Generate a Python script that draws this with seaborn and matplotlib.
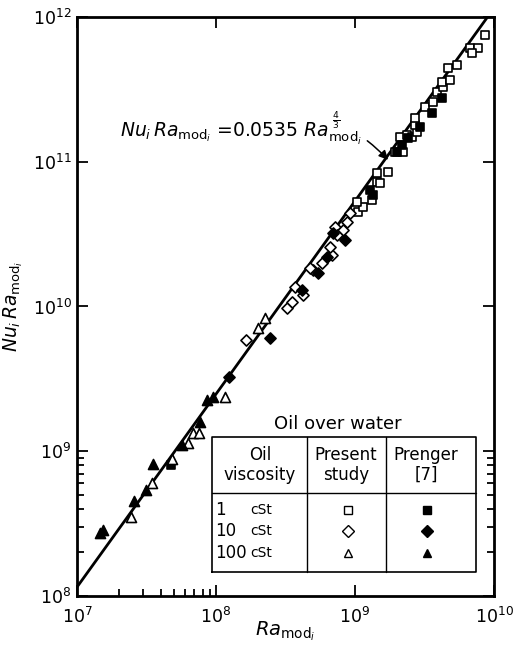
import numpy as np
import pandas as pd
import matplotlib
matplotlib.use("Agg")
import matplotlib.pyplot as plt
from matplotlib.ticker import FixedLocator, NullFormatter
import seaborn as sns

# present study, 1 cSt (open squares)
sq_open_x = [1.05e9, 1.14e9, 1.03e9, 1.32e9, 1.44e9, 1.51e9, 1.44e9, 1.73e9, 1.94e9, 2.21e9,
             2.11e9, 2.37e9, 2.57e9, 2.79e9, 2.70e9, 2.70e9, 3.19e9, 3.64e9, 3.89e9, 4.30e9,
             4.23e9, 4.82e9, 4.67e9, 5.42e9, 6.71e9, 7.67e9, 6.95e9, 8.61e9]
sq_open_y = [4.50e10, 4.86e10, 5.27e10, 5.44e10, 7.25e10, 7.13e10, 8.36e10, 8.49e10, 1.17e11, 1.17e11,
             1.48e11, 1.53e11, 1.48e11, 1.61e11, 1.80e11, 2.00e11, 2.39e11, 2.59e11, 3.03e11, 3.28e11,
             3.56e11, 3.67e11, 4.45e11, 4.66e11, 6.11e11, 6.11e11, 5.64e11, 7.52e11]
# Prenger, 1 cSt (filled squares)
sq_fill_x = [4.74e7, 1.28e9, 1.35e9, 2.00e9, 2.18e9, 2.40e9, 2.94e9, 3.58e9, 4.23e9]
sq_fill_y = [8.04e8, 6.38e10, 5.89e10, 1.17e11, 1.31e11, 1.46e11, 1.74e11, 2.17e11, 2.75e11]
# present study, 10 cSt (open diamonds)
di_open_x = [1.64e8, 3.24e8, 3.52e8, 4.23e8, 3.70e8, 4.99e8, 4.75e8, 5.80e8, 6.84e8, 6.61e8,
             7.18e8, 8.20e8, 8.75e8, 7.43e8, 9.21e8]
di_open_y = [5.87e9, 9.77e9, 1.07e10, 1.20e10, 1.36e10, 1.79e10, 1.85e10, 2.00e10, 2.27e10, 2.58e10,
             3.54e10, 3.38e10, 3.84e10, 3.12e10, 4.43e10]
# Prenger, 10 cSt (filled diamonds)
di_fill_x = [1.24e8, 2.44e8, 4.16e8, 5.42e8, 6.30e8, 6.95e8, 8.47e8]
di_fill_y = [3.26e9, 6.06e9, 1.30e10, 1.70e10, 2.20e10, 3.22e10, 2.88e10]
# present study, 100 cSt (open triangles)
tr_open_x = [2.44e7, 3.47e7, 4.82e7, 6.30e7, 6.84e7, 7.55e7, 1.16e8, 2.00e8, 2.25e8]
tr_open_y = [3.52e8, 6.04e8, 8.84e8, 1.14e9, 1.34e9, 1.34e9, 2.37e9, 7.10e9, 8.32e9]
# Prenger, 100 cSt (filled triangles)
tr_fill_x = [1.46e7, 1.54e7, 2.57e7, 3.13e7, 3.52e7, 5.69e7, 7.67e7, 8.61e7, 9.51e7]
tr_fill_y = [2.72e8, 2.86e8, 4.53e8, 5.40e8, 8.17e8, 1.10e9, 1.59e9, 2.26e9, 2.37e9]

# correlation line
coef = 0.0535
expo = 4.0 / 3.0
line_x = np.array([1e7, 1e10])

sns.set_style("ticks")
plt.rcParams["font.family"] = ["DejaVu Sans"]
plt.rcParams["mathtext.fontset"] = "dejavusans"
for k in ["text.color", "axes.labelcolor", "xtick.color", "ytick.color", "axes.edgecolor"]:
    plt.rcParams[k] = "black"

fig = plt.figure(figsize=(5.15, 6.58), dpi=100)
ax = fig.add_axes([0.1495, 0.0942, 0.8097, 0.8800])
ax.set_xscale("log")
ax.set_yscale("log")

sns.lineplot(x=line_x, y=coef * line_x ** expo, color="black", lw=2.0, ax=ax)

groups = [
    (sq_open_x, sq_open_y, "s", "white", 40),
    (sq_fill_x, sq_fill_y, "s", "black", 40),
    (di_open_x, di_open_y, "D", "white", 32),
    (di_fill_x, di_fill_y, "D", "black", 32),
    (tr_open_x, tr_open_y, "^", "white", 52),
    (tr_fill_x, tr_fill_y, "^", "black", 52),
]
for gx, gy, mk, fc, sz in groups:
    df = pd.DataFrame({"x": gx, "y": gy})
    sns.scatterplot(data=df, x="x", y="y", marker=mk, s=sz, color=fc,
                    edgecolor="black", linewidth=1.2, ax=ax, zorder=3)

ax.set_xlim(1e7, 1e10)
ax.set_ylim(1e8, 1e12)

ax.xaxis.set_minor_locator(FixedLocator([k * 1e7 for k in range(2, 10)]))
ax.yaxis.set_minor_locator(FixedLocator([k * 1e8 for k in range(2, 10)]))
ax.xaxis.set_minor_formatter(NullFormatter())
ax.yaxis.set_minor_formatter(NullFormatter())
ax.tick_params(which="both", direction="in", top=True, right=True, width=1.3)
ax.tick_params(which="major", length=8, labelsize=12.5, pad=4)
ax.tick_params(axis="x", which="major", pad=8)
ax.tick_params(which="minor", length=5, top=False)
for sp in ax.spines.values():
    sp.set_linewidth(2)
    sp.set_visible(True)

ax.set_xlabel(r"$Ra_{\mathrm{mod}_i}$", fontsize=14)
ax.set_ylabel(r"$Nu_i\,Ra_{\mathrm{mod}_i}$", fontsize=13.5)
ax.xaxis.set_label_coords(0.5, -0.04)
ax.yaxis.set_label_coords(-0.125, 0.5)

ax.annotate(r"$Nu_i\,Ra_{\mathrm{mod}_i}$ =0.0535 $Ra_{\mathrm{mod}_i}^{\;\frac{4}{3}}$",
            xy=(1.73e9, 1.03e11), xycoords="data",
            xytext=(0.683, 0.808), textcoords="axes fraction",
            ha="right", va="center", fontsize=13.5,
            arrowprops=dict(arrowstyle="-|>", color="black", lw=1.1,
                            connectionstyle="arc3,rad=-0.35", shrinkA=2, shrinkB=0))

# legend table
T = ax.transAxes
x0, x1 = 0.324, 0.957
y0, y1 = 0.0415, 0.2746
xa, xb = 0.5516, 0.741
ym = 0.178
ax.plot([x0, x1, x1, x0, x0], [y0, y0, y1, y1, y0], color="black", lw=1.2, transform=T)
ax.plot([xa, xa], [y0, y1], color="black", lw=1.0, transform=T)
ax.plot([xb, xb], [y0, y1], color="black", lw=1.0, transform=T)
ax.plot([x0, x1], [ym, ym], color="black", lw=1.0, transform=T)

ax.text(0.626, 0.297, "Oil over water", ha="center", va="center", fontsize=13, transform=T)
ax.text(0.439, 0.226, "Oil\nviscosity", ha="center", va="center", fontsize=12,
        linespacing=1.1, transform=T)
ax.text(0.645, 0.226, "Present\nstudy", ha="center", va="center", fontsize=12,
        linespacing=1.1, transform=T)
ax.text(0.837, 0.226, "Prenger\n[7]", ha="center", va="center", fontsize=12,
        linespacing=1.1, transform=T)

rows = [("1", "s", 0.1485), ("10", "D", 0.112), ("100", "^", 0.074)]
for num, mk, yy in rows:
    ax.text(0.331, yy, num, ha="left", va="center", fontsize=12, transform=T)
    ax.text(0.415, yy, "cSt", ha="left", va="center", fontsize=10, transform=T)
    ax.plot([0.650], [yy], marker=mk, ms=6, mfc="white", mec="black", mew=1.0,
            transform=T, ls="none")
    ax.plot([0.839], [yy], marker=mk, ms=6, mfc="black", mec="black", mew=1.0,
            transform=T, ls="none")

fig.savefig("out.png", dpi=100)
